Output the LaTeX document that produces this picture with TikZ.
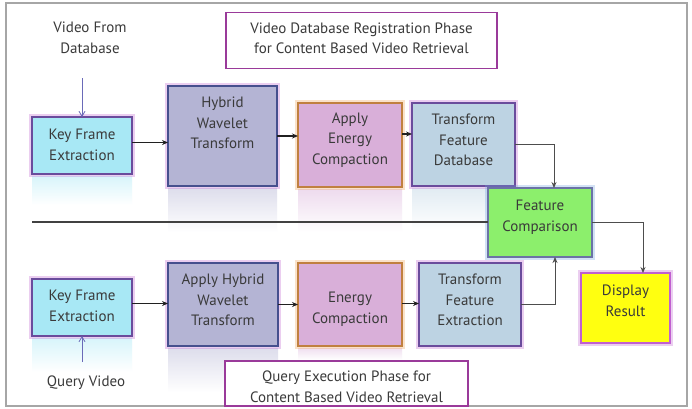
\documentclass[tikz,border=0pt]{standalone}
\usepackage{fontspec}
\setmainfont{PT Sans}
\usetikzlibrary{arrows.meta}
\definecolor{txtc}{HTML}{3A3A3A}
\definecolor{cyanf}{HTML}{A8E8F5}
\definecolor{lavf}{HTML}{B4B4D4}
\definecolor{pinkf}{HTML}{D9AFD9}
\definecolor{bluef}{HTML}{BDD3E3}
\definecolor{greenf}{HTML}{8CEF6C}
\definecolor{yellf}{HTML}{FFFF10}
\definecolor{purpd}{HTML}{6A4C9C}
\definecolor{navyd}{HTML}{46508E}
\definecolor{purpg}{HTML}{C060D0}
\definecolor{orang}{HTML}{F0A050}
\definecolor{blueg}{HTML}{70A0E0}
\definecolor{titleb}{HTML}{9A3A9A}
\definecolor{arrc}{HTML}{202020}
\definecolor{vin}{HTML}{6A6AB8}
\tikzset{
  box/.style n args={3}{fill=#1, draw=#2, line width=1.2pt, inner sep=0pt, outer sep=0pt,
    preaction={draw=#3, line width=6pt, draw opacity=0.3}},
  lbl/.style={font=\fontsize{15}{20.5}\selectfont, align=center, text=txtc, inner sep=0pt},
  arr/.style={draw=arrc, line width=1.1pt, -{Stealth[length=6pt,width=5pt]}},
  arrg/.style={draw=arrc!80, line width=0.9pt, -{Stealth[length=6pt,width=5pt]}},
  arrv/.style={draw=vin, line width=0.8pt, -{Straight Barb[length=5pt,width=6pt]}},
  titlebox/.style={draw=titleb, line width=1.8pt, fill=white, inner sep=0pt},
}
\begin{document}
\begin{tikzpicture}[x=1pt,y=-1pt]
\useasboundingbox (0,0) rectangle (692,408);
\fill[white] (0,0) rectangle (692,408);
\draw[gray!70, line width=1.4pt] (6,3) rectangle (687,406);

% reflections
\shade[top color=cyanf!45!white, bottom color=white] (32,176) rectangle (132,205);
\shade[top color=lavf!45!white, bottom color=white] (168,188) rectangle (277,232);
\shade[top color=pinkf!45!white, bottom color=white] (298,189) rectangle (402,232);
\shade[top color=bluef!45!white, bottom color=white] (412,188) rectangle (488,230);
\shade[top color=cyanf!45!white, bottom color=white] (32,338) rectangle (132,372);
\shade[top color=lavf!45!white, bottom color=white] (168,348) rectangle (278,392);
\shade[top color=pinkf!40!white, bottom color=white] (298,348) rectangle (402,360);

% horizontal separator
\coordinate (lstart) at (32,222);

% top row
\node[box={cyanf}{purpd}{purpg}, minimum width=100pt, minimum height=57pt] (kfe1) at (82,145.5) {};
\node[box={lavf}{navyd}{purpg}, minimum width=109pt, minimum height=100pt] (hwt) at (222.5,136) {};
\node[box={pinkf}{orang!80!black}{orang}, minimum width=104pt, minimum height=84pt] (aec) at (350,145) {};
\node[box={bluef}{purpd}{purpg}, minimum width=103pt, minimum height=83pt] (tfd) at (463.5,144.5) {};

\node[lbl] (kfe1t) at (82,145) {Key Frame\\Extraction};
\node[lbl] (hwtt) at (222.5,123) {Hybrid\\Wavelet\\Transform};
\node[lbl] (aect) at (350,140) {Apply\\Energy\\Compaction};
\node[lbl] (tfdt) at (463.5,140) {Transform\\Feature\\Database};

% comparison and result
\node[box={greenf}{navyd!80}{blueg}, minimum width=104pt, minimum height=69pt] (fc) at (540,222.5) {};
\node[lbl] (fct) at (540,217) {Feature\\Comparison};
\node[box={yellf}{purpg}{purpg}, minimum width=89pt, minimum height=70pt] (dr) at (625.5,308) {};
\node[lbl] (drt) at (625.5,301) {Display\\Result};

% bottom row
\node[box={cyanf}{purpd}{purpg}, minimum width=100pt, minimum height=57pt] (kfe2) at (82,307.5) {};
\node[box={lavf}{navyd}{purpg}, minimum width=110pt, minimum height=83pt] (ahwt) at (223,304.5) {};
\node[box={pinkf}{orang!80!black}{orang}, minimum width=104pt, minimum height=83pt] (ec) at (350,304.5) {};
\node[box={bluef}{purpd}{purpg}, minimum width=102pt, minimum height=83pt] (tfe) at (470,304.5) {};

\node[lbl] (kfe2t) at (82,306) {Key Frame\\Extraction};
\node[lbl] (ahwtt) at (223,300) {Apply Hybrid\\Wavelet\\Transform};
\node[lbl] (ect) at (350,309) {Energy\\Compaction};
\node[lbl] (tfet) at (470,300) {Transform\\Feature\\Extraction};

% titles
\node[titlebox, minimum width=271pt, minimum height=56pt] (t1) at (361.5,40.5) {};
\node[lbl] (t1t) at (361.5,38.5) {Video Database Registration Phase\\for Content Based Video Retrieval};
\node[titlebox, minimum width=243pt, minimum height=45pt] (t2) at (346.5,383.5) {};
\node[lbl] (t2t) at (346.5,386.5) {Query Execution Phase for\\Content Based Video Retrieval};

% inputs
\node[lbl] (vfd) at (90,38) {Video From\\Database};
\node[lbl] (qv) at (86,383) {Query Video};
\coordinate (vin1) at (82,78);
\coordinate (vin2) at (82,362);
\draw[arrv] (vin1) -- (kfe1.north);
\draw[arrv] (vin2) -- (kfe2.south);

% separator
\draw[draw=arrc!85, line width=1.2pt] (lstart) -- (lstart -| fc.west);

% connectors top
\draw[arr] ([yshift=3pt]kfe1.east) -- ([yshift=3pt]kfe1.east -| hwt.west);
\draw[arr] (hwt.east) -- (hwt.east -| aec.west);
\draw[arr] ([yshift=11pt]aec.east) -- ([yshift=11pt]aec.east -| tfd.west);
\draw[arrg] (tfd.east) -| ([xshift=14pt]fc.north);
% connectors bottom
\draw[arr] ([yshift=4pt]kfe2.east) -- ([yshift=4pt]kfe2.east -| ahwt.west);
\draw[arr] (ahwt.east) -- (ahwt.east -| ec.west);
\draw[arr] ([yshift=1pt]ec.east) -- ([yshift=1pt]ec.east -| tfe.west);
\draw[arrg] (tfe.east) -| ([xshift=15pt]fc.south);
% result
\draw[arrg] (fc.east) -| ([xshift=17.5pt]dr.north);
\end{tikzpicture}
\end{document}
